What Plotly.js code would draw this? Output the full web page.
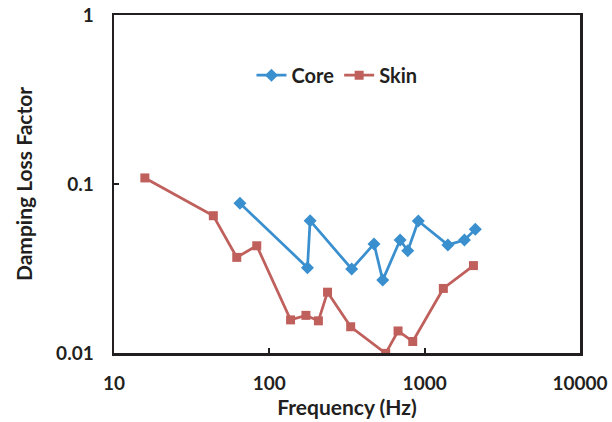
<!DOCTYPE html>
<html>
<head>
<meta charset="utf-8">
<script src="https://cdn.plot.ly/plotly-3.0.1.min.js"></script>
<style>html,body{margin:0;padding:0;background:#fff;}#chart{width:612px;height:422px;}</style>
</head>
<body>
<div id="chart"></div>
<script>
var coreFreq = [64.7, 176, 183, 339, 472, 537, 695, 778, 910, 1410, 1803, 2119];
var coreLoss = [0.0769, 0.0320, 0.0607, 0.0314, 0.0442, 0.0270, 0.0466, 0.0403, 0.0604, 0.0436, 0.0466, 0.0539];
var skinFreq = [15.8, 43.6, 61.7, 83, 137, 172, 207, 237, 334, 561, 674, 838, 1319, 2061];
var skinLoss = [0.1086, 0.0649, 0.0368, 0.0431, 0.0157, 0.0167, 0.0155, 0.0229, 0.0143, 0.00995, 0.0135, 0.0117, 0.0241, 0.0329];
var xTicks = [10, 100, 1000, 10000];
var xTickText = ['10', '100', '1000', '10000'];
var yTicks = [0.01, 0.1, 1];
var yTickText = ['0.01', '0.1', '1'];

var fontFam = 'Lato, "Open Sans", sans-serif';
var traces = [
  {x: coreFreq, y: coreLoss, name: 'Core', mode: 'lines+markers', type: 'scatter',
   line: {color: '#3A8FCF', width: 2.75},
   marker: {symbol: 'diamond', size: 10, color: '#3A8FCF'}},
  {x: skinFreq, y: skinLoss, name: 'Skin', mode: 'lines+markers', type: 'scatter',
   line: {color: '#C0605C', width: 2.75},
   marker: {symbol: 'square', size: 9, color: '#C0605C'}}
];
var axisCommon = {
  type: 'log', showgrid: false, zeroline: false, showline: true, mirror: true,
  linecolor: '#231F20', linewidth: 2.5, ticks: 'inside', ticklen: 5, tickwidth: 2,
  tickcolor: '#231F20', tickmode: 'array',
  tickfont: {family: fontFam, size: 19, color: '#231F20', weight: 'bold'}
};
var layout = {
  width: 612, height: 422,
  margin: {l: 114, r: 32, t: 15, b: 69},
  paper_bgcolor: '#fff', plot_bgcolor: '#fff',
  showlegend: true,
  legend: {orientation: 'h', x: 0.295, y: 0.822, xanchor: 'left', yanchor: 'middle',
    font: {family: fontFam, size: 20, color: '#231F20', weight: 'bold'},
    bgcolor: 'rgba(0,0,0,0)', itemwidth: 30, tracegroupgap: 0},
  xaxis: Object.assign({}, axisCommon, {
    range: [1, 4], tickvals: xTicks, ticktext: xTickText, ticklabelstandoff: 12,
    title: {text: 'Frequency (Hz)', standoff: 6, font: {family: fontFam, size: 21, color: '#231F20', weight: 'bold'}}
  }),
  yaxis: Object.assign({}, axisCommon, {
    range: [-2, 0], tickvals: yTicks, ticktext: yTickText, ticklabelstandoff: 14,
    title: {text: 'Damping Loss Factor', standoff: 18, font: {family: fontFam, size: 21, color: '#231F20', weight: 'bold'}}
  })
};
Plotly.newPlot('chart', traces, layout, {displayModeBar: false, staticPlot: true});
</script>
</body>
</html>
